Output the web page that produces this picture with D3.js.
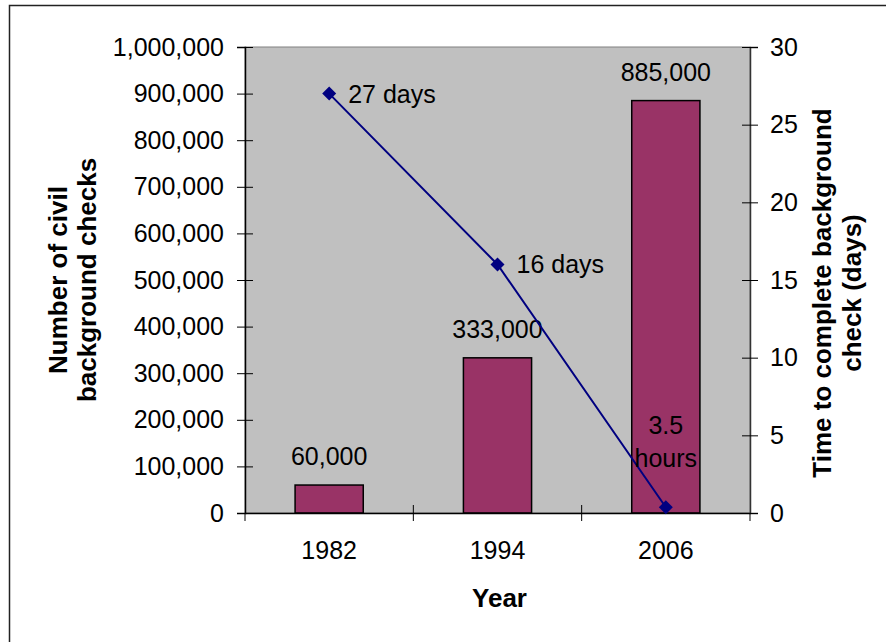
<!DOCTYPE html>
<html><head><meta charset="utf-8">
<script src="https://cdn.jsdelivr.net/npm/d3@7"></script>
<style>html,body{margin:0;padding:0;background:#fff;}svg{display:block;font-family:"Liberation Sans",Arial,sans-serif;}</style>
</head><body>
<svg id="c" width="886" height="642"></svg>
<script>
const years = ["1982", "1994", "2006"];
const checks = [60000, 333000, 885000];
const checkLabels = ["60,000", "333,000", "885,000"];
const days = [27, 16, 0.37];
const dayLabels = [["27 days"], ["16 days"], ["3.5", "hours"]];
const leftTicks = [0,100000,200000,300000,400000,500000,600000,700000,800000,900000,1000000];
const rightTicks = [0,5,10,15,20,25,30];

const FS = 25, TFS = 26;
const svg = d3.select("#c");
const L = 245, R = 750, T = 47, B = 513;
const x = d3.scaleBand().domain(years).range([L, R]).padding(0);
const yL = d3.scaleLinear().domain([0, 1000000]).range([B, T]);
const yR = d3.scaleLinear().domain([0, 30]).range([B, T]);

// outer frame
svg.append("path").attr("d", "M9.5,642 L9.5,5.5 L886,5.5").attr("fill","none").attr("stroke","#222").attr("stroke-width",1.5);

// plot area
svg.append("rect").attr("x", L).attr("y", T).attr("width", R-L).attr("height", B-T)
  .attr("fill", "#c0c0c0").attr("stroke", "#808080").attr("stroke-width", 1);

// bars
const bw = x.bandwidth()*0.405;
svg.append("g").selectAll("rect").data(checks).join("rect")
  .attr("x", (d,i) => x(years[i]) + (x.bandwidth()-bw)/2)
  .attr("y", d => yL(d))
  .attr("width", bw)
  .attr("height", d => B - yL(d))
  .attr("fill", "#993366").attr("stroke", "#000").attr("stroke-width", 1.5);

// bar labels
svg.append("g").selectAll("text").data(checkLabels).join("text")
  .attr("x", (d,i) => x(years[i]) + x.bandwidth()/2)
  .attr("y", (d,i) => yL(checks[i]) - 29)
  .attr("text-anchor","middle").attr("dominant-baseline","central")
  .attr("font-size", FS).attr("fill","#000").text(d => d);

// left axis
const gL = svg.append("g").attr("transform", `translate(${L},0)`)
  .call(d3.axisLeft(yL).tickValues(leftTicks).tickFormat(d3.format(",")).tickSize(8).tickPadding(13));
gL.select(".domain").attr("stroke","#000").attr("stroke-width",1.5);
gL.selectAll(".tick line").attr("x1", 8).attr("x2", -8).attr("stroke","#000");
gL.selectAll("text").attr("font-size", FS).attr("font-family","Liberation Sans, Arial, sans-serif").attr("fill","#000");

// right axis
const gR = svg.append("g").attr("transform", `translate(${R},0)`)
  .call(d3.axisRight(yR).tickValues(rightTicks).tickSize(8).tickPadding(12));
gR.select(".domain").attr("stroke","#333").attr("stroke-width",1.5);
gR.selectAll(".tick line").attr("x1", -8).attr("x2", 8).attr("stroke","#000");
gR.selectAll("text").attr("font-size", FS).attr("font-family","Liberation Sans, Arial, sans-serif").attr("fill","#000");

// bottom axis
const gB = svg.append("g").attr("transform", `translate(0,${B})`)
  .call(d3.axisBottom(x).tickSize(0).tickPadding(28));
gB.select(".domain").attr("stroke","#000").attr("stroke-width",1.5);
gB.selectAll("text").attr("font-size", FS).attr("font-family","Liberation Sans, Arial, sans-serif").attr("fill","#000");
const bounds = years.map(d => x(d)).concat([x(years[years.length-1]) + x.bandwidth()]);
svg.append("g").selectAll("line").data(bounds).join("line")
  .attr("x1", d => d).attr("x2", d => d)
  .attr("y1", (d,i) => (i === 0 || i === bounds.length-1) ? B : B-8)
  .attr("y2", B+8).attr("stroke","#000").attr("stroke-width",1);

// line series
const cx = (i) => x(years[i]) + x.bandwidth()/2;
const line = d3.line().x((d,i) => cx(i)).y(d => yR(d));
svg.append("path").datum(days).attr("d", line).attr("fill","none").attr("stroke","#000080").attr("stroke-width",2);
svg.append("g").selectAll("path").data(days).join("path")
  .attr("transform", (d,i) => `translate(${cx(i)},${yR(d)})`)
  .attr("d", "M0,-7 L7,0 L0,7 L-7,0 Z").attr("fill","#000080");

// line labels
dayLabels.forEach((lines, i) => {
  if (lines.length === 1) {
    svg.append("text").attr("x", cx(i) + 19).attr("y", yR(days[i]))
      .attr("dominant-baseline","central").attr("font-size",FS).attr("fill","#000").text(lines[0]);
  } else {
    lines.forEach((t, j) => {
      svg.append("text").attr("x", cx(i)).attr("y", yR(days[i]) - 82 + j*33)
        .attr("text-anchor","middle").attr("dominant-baseline","central")
        .attr("font-size",FS).attr("fill","#000").text(t);
    });
  }
});

// axis titles
svg.append("text").attr("x", (L+R)/2 + 2).attr("y", 598).attr("text-anchor","middle").attr("dominant-baseline","central")
  .attr("font-size",TFS).attr("font-weight","bold").text("Year");

const lt = svg.append("text").attr("transform","translate(72,280) rotate(-90)").attr("text-anchor","middle")
  .attr("font-size",TFS).attr("font-weight","bold");
lt.append("tspan").attr("x",0).attr("y",-14).attr("dominant-baseline","central").text("Number of civil");
lt.append("tspan").attr("x",0).attr("y",15).attr("dominant-baseline","central").text("background checks");

const rt = svg.append("text").attr("transform","translate(837,293) rotate(-90)").attr("text-anchor","middle")
  .attr("font-size",TFS).attr("font-weight","bold");
rt.append("tspan").attr("x",0).attr("y",-15).attr("dominant-baseline","central").text("Time to complete background");
rt.append("tspan").attr("x",0).attr("y",15).attr("dominant-baseline","central").text("check (days)");
</script>
</body></html>
